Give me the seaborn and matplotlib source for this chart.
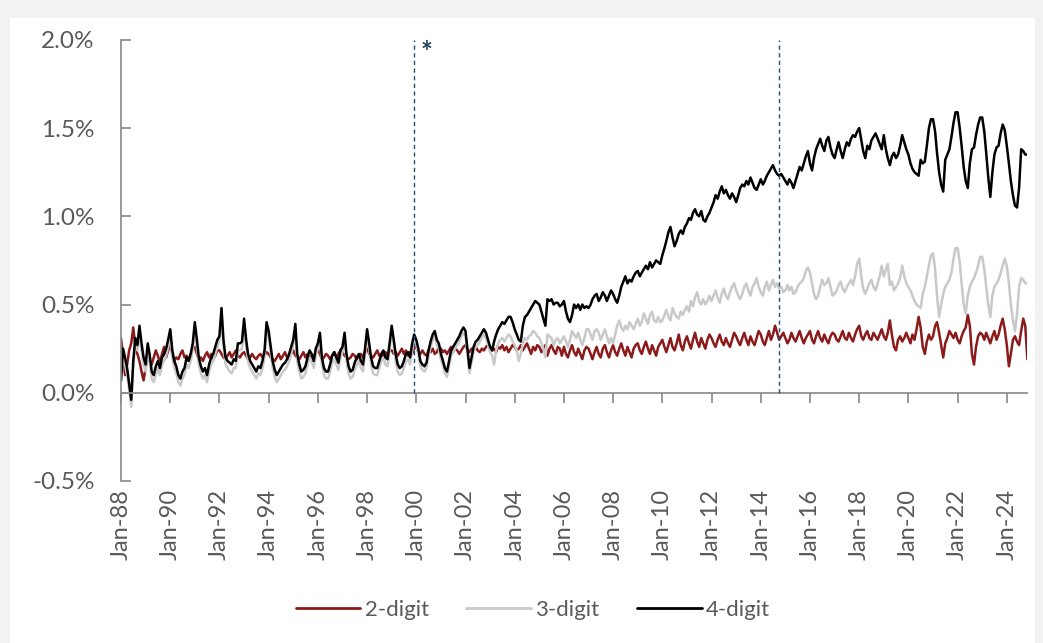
import matplotlib
matplotlib.use("Agg")
import matplotlib.pyplot as plt
import matplotlib.dates as mdates
from matplotlib.patches import Rectangle
from matplotlib.ticker import FuncFormatter, MultipleLocator
import seaborn as sns
import numpy as np
import pandas as pd

# monthly shares, in hundredths of a percent (Jan-88 .. Nov-24), one row per year
two_digit = [
    31, 20, 10, 16, 24, 28, 37, 26, 22, 18, 12, 7,
    14, 22, 18, 16, 20, 24, 21, 17, 22, 26, 20, 24,
    28, 22, 18, 20, 19, 22, 24, 20, 21, 18, 22, 25,
    26, 22, 19, 20, 18, 21, 23, 20, 22, 19, 21, 24,
    24, 22, 20, 19, 21, 23, 20, 22, 24, 21, 20, 22,
    23, 21, 19, 20, 22, 20, 19, 21, 22, 20, 21, 23,
    22, 20, 19, 18, 20, 22, 19, 21, 23, 20, 19, 22,
    24, 21, 20, 19, 21, 23, 20, 22, 19, 21, 20, 23,
    25, 22, 19, 20, 22, 21, 19, 21, 23, 20, 22, 24,
    23, 21, 20, 19, 20, 22, 21, 19, 21, 22, 20, 23,
    25, 22, 21, 20, 22, 24, 21, 22, 20, 23, 21, 24,
    24, 22, 23, 21, 23, 25, 22, 24, 21, 23, 22, 25,
    26, 23, 22, 24, 22, 21, 24, 23, 25, 22, 23, 26,
    25, 23, 24, 22, 24, 26, 23, 25, 24, 22, 24, 26,
    27, 24, 23, 25, 24, 26, 24, 23, 25, 24, 26, 27,
    26, 24, 25, 23, 26, 25, 27, 24, 26, 23, 25, 27,
    26, 24, 25, 27, 24, 26, 28, 25, 22, 26, 24, 27,
    26, 23, 25, 27, 21, 25, 27, 24, 22, 26, 25, 21,
    26, 22, 20, 24, 27, 23, 21, 25, 22, 19, 24, 26,
    25, 22, 19, 23, 26, 22, 20, 25, 27, 23, 20, 24,
    27, 23, 21, 25, 28, 24, 21, 26, 23, 20, 25, 27,
    28, 24, 22, 26, 29, 25, 22, 27, 24, 21, 26, 28,
    30, 26, 23, 27, 31, 26, 24, 28, 33, 27, 24, 29,
    32, 28, 25, 30, 34, 29, 26, 31, 28, 25, 30, 33,
    31, 28, 26, 30, 33, 29, 27, 31, 28, 26, 30, 34,
    32, 29, 27, 31, 34, 30, 27, 32, 29, 27, 31, 35,
    33, 29, 27, 31, 35, 30, 33, 38, 34, 30, 32, 34,
    31, 28, 30, 34, 31, 29, 32, 35, 31, 28, 31, 33,
    35, 30, 28, 32, 35, 31, 29, 33, 30, 28, 32, 34,
    33, 30, 29, 32, 35, 31, 30, 34, 31, 29, 33, 36,
    38, 32, 30, 33, 35, 31, 30, 34, 32, 30, 33, 36,
    32, 30, 34, 41, 33, 26, 24, 30, 32, 29, 31, 34,
    31, 28, 33, 30, 36, 43, 37, 26, 22, 29, 33, 30,
    32, 38, 40, 34, 27, 20, 28, 31, 35, 33, 31, 34,
    30, 28, 32, 35, 37, 44, 38, 22, 16, 26, 32, 34,
    33, 30, 34, 31, 28, 32, 35, 30, 33, 38, 42, 36,
    27, 15, 22, 30, 32, 29, 27, 35, 42, 38, 19,
]

three_digit = [
    6, 22, 16, 10, 2, -8, 14, 28, 24, 34, 24, 16,
    12, 24, 18, 8, 6, 10, 14, 10, 16, 18, 21, 26,
    32, 20, 14, 11, 6, 4, 8, 10, 16, 14, 18, 24,
    36, 26, 16, 11, 8, 10, 6, 12, 16, 18, 22, 26,
    30, 44, 26, 16, 14, 12, 11, 14, 14, 24, 24, 25,
    38, 26, 18, 14, 12, 10, 8, 11, 10, 14, 20, 36,
    32, 22, 14, 9, 6, 8, 10, 12, 13, 15, 18, 22,
    27, 36, 18, 12, 8, 9, 11, 16, 20, 18, 14, 21,
    25, 31, 16, 10, 8, 8, 12, 17, 19, 16, 13, 20,
    23, 31, 18, 11, 8, 9, 13, 16, 18, 14, 12, 21,
    33, 25, 16, 11, 10, 10, 14, 18, 20, 16, 15, 24,
    35, 27, 18, 12, 10, 11, 14, 18, 19, 16, 24, 30,
    27, 22, 15, 13, 12, 14, 21, 26, 30, 32, 27, 25,
    19, 15, 11, 9, 15, 21, 23, 25, 27, 29, 32, 34,
    32, 21, 11, 17, 23, 26, 27, 29, 31, 33, 31, 27,
    23, 21, 16, 24, 28, 30, 31, 29, 31, 33, 32, 29,
    27, 24, 18, 22, 28, 31, 30, 32, 33, 35, 34, 32,
    31, 28, 25, 20, 33, 32, 31, 27, 30, 31, 28, 30,
    32, 29, 26, 30, 35, 33, 31, 34, 30, 27, 31, 36,
    36, 33, 30, 35, 36, 34, 30, 33, 36, 32, 28, 31,
    28, 33, 38, 41, 37, 35, 38, 36, 40, 38, 36, 39,
    42, 38, 40, 45, 42, 39, 44, 46, 41, 40, 43, 40,
    41, 44, 47, 43, 41, 48, 45, 43, 42, 46, 44, 47,
    49, 46, 52, 49, 54, 57, 52, 50, 53, 50, 52, 55,
    52, 55, 58, 54, 51, 56, 59, 55, 53, 57, 60, 62,
    58, 55, 53, 56, 60, 62, 58, 55, 60, 62, 65, 60,
    57, 55, 60, 63, 58, 61, 64, 60, 62, 59, 60, 57,
    58, 61, 58, 60, 56, 57, 60, 62, 63, 65, 69, 71,
    68, 62, 56, 53, 55, 60, 64, 61, 62, 65, 60, 55,
    56, 58, 61, 63, 59, 57, 60, 62, 64, 61, 66, 73,
    76, 66, 59, 56, 59, 62, 64, 60, 58, 62, 66, 72,
    66, 70, 73, 61, 63, 58, 60, 62, 65, 72, 66, 62,
    60, 58, 55, 52, 50, 49, 48, 56, 60, 66, 72, 78,
    79, 70, 55, 43, 50, 56, 60, 62, 64, 68, 76, 82,
    82, 74, 62, 50, 45, 55, 60, 63, 65, 68, 72, 77,
    77, 70, 60, 50, 43, 55, 60, 62, 64, 68, 72, 76,
    72, 62, 50, 41, 35, 45, 60, 65, 64, 62, 62,
]

four_digit = [
    7, 25, 20, 14, 5, -4, 18, 31, 27, 38, 28, 20,
    16, 28, 22, 12, 10, 15, 18, 14, 20, 22, 25, 30,
    36, 24, 18, 15, 10, 8, 12, 14, 20, 18, 22, 28,
    40, 30, 20, 15, 12, 14, 10, 16, 20, 22, 26, 30,
    32, 48, 30, 20, 18, 17, 16, 19, 18, 28, 28, 29,
    42, 30, 22, 18, 16, 14, 12, 15, 14, 18, 24, 40,
    35, 26, 18, 13, 10, 12, 14, 16, 17, 19, 22, 26,
    30, 39, 22, 16, 12, 13, 15, 20, 24, 22, 18, 25,
    28, 34, 20, 14, 12, 12, 16, 21, 23, 20, 17, 24,
    26, 34, 22, 15, 12, 13, 17, 20, 22, 18, 16, 25,
    36, 28, 20, 15, 14, 14, 18, 22, 24, 20, 19, 28,
    38, 30, 22, 16, 14, 15, 18, 22, 23, 20, 28, 33,
    30, 25, 18, 16, 15, 17, 24, 29, 33, 35, 30, 28,
    22, 18, 14, 12, 18, 24, 26, 28, 30, 32, 35, 37,
    35, 24, 14, 20, 26, 29, 30, 32, 34, 36, 34, 30,
    26, 24, 29, 33, 36, 38, 40, 39, 41, 43, 43, 40,
    36, 33, 30, 29, 38, 43, 44, 46, 48, 50, 52, 51,
    50, 46, 42, 38, 53, 52, 53, 50, 51, 51, 49, 50,
    52, 46, 42, 40, 44, 50, 48, 50, 47, 50, 48, 49,
    48, 50, 53, 55, 56, 52, 54, 57, 55, 52, 55, 58,
    56, 53, 51, 55, 60, 63, 66, 62, 64, 63, 66, 68,
    69, 66, 68, 70, 72, 70, 74, 71, 73, 75, 74, 73,
    78, 82, 86, 91, 94, 88, 83, 86, 90, 92, 90, 94,
    96, 99, 98, 102, 104, 101, 100, 103, 98, 97, 100, 102,
    105, 108, 112, 110, 114, 117, 113, 115, 112, 110, 113, 111,
    108, 112, 116, 118, 117, 120, 118, 122, 119, 116, 115, 118,
    121, 118, 120, 123, 125, 127, 129, 126, 124, 123, 124, 122,
    120, 118, 121, 119, 116, 120, 124, 128, 126, 130, 134, 137,
    130, 126, 133, 138, 141, 144, 140, 137, 143, 145, 139, 135,
    133, 138, 142, 137, 133, 138, 142, 140, 144, 146, 145, 148,
    150, 143, 137, 133, 140, 138, 143, 145, 147, 144, 141, 138,
    146, 138, 133, 129, 134, 136, 133, 135, 140, 146, 142, 138,
    135, 130, 127, 125, 124, 123, 132, 130, 131, 140, 150, 155,
    155, 148, 136, 125, 118, 114, 132, 135, 138, 145, 153, 159,
    159, 150, 140, 128, 120, 116, 130, 138, 139, 146, 152, 156,
    156, 148, 136, 122, 111, 125, 135, 139, 140, 147, 152, 149,
    140, 130, 120, 112, 106, 105, 116, 138, 137, 135, 135,
]

series_names = ["2-digit", "3-digit", "4-digit"]
series_colors = ["#8b1a1a", "#c9c9c9", "#000000"]
break_dates = ["1999-12-01", "2014-10-01"]

dates = pd.date_range("1988-01-01", periods=len(four_digit), freq="MS")
wide = pd.DataFrame({
    "date": dates,
    "2-digit": np.array(two_digit) / 100,
    "3-digit": np.array(three_digit) / 100,
    "4-digit": np.array(four_digit) / 100,
})
df = wide.melt(id_vars="date", var_name="series", value_name="share")

sns.set_theme(style="white")
plt.rcParams["font.family"] = ["Lato", "DejaVu Sans"]

fig = plt.figure(figsize=(10.43, 6.43), dpi=100)
fig.patch.set_facecolor("#f2f2f2")
fig.patches.append(Rectangle((10 / 1043, 0), 1025 / 1043, 625 / 643,
                             transform=fig.transFigure, facecolor="white",
                             edgecolor="none", zorder=-10))
ax = fig.add_axes([0.116, 0.252, 0.869, 0.686])
ax.set_facecolor("none")

sns.lineplot(data=df, x="date", y="share", hue="series", hue_order=series_names,
             palette=series_colors, linewidth=1.8, ax=ax, legend=False)

# dashed break markers
for d in break_dates:
    ax.vlines(pd.Timestamp(d), 0, 2.0, colors="#1f4e79", linestyles=(0, (3, 2.5)),
              linewidth=1.0, zorder=5)
ax.text(pd.Timestamp("2000-03-01"), 2.0, "*", color="#1f3f5f", fontsize=20,
        fontweight="bold", ha="left", va="top")

ax.set_xlim(dates[0], dates[-1])
ax.set_ylim(-0.5, 2.0)
ax.set_xlabel("")
ax.set_ylabel("")

axis_grey = "#8c8c8c"
label_grey = "#595959"
for s in ["top", "right"]:
    ax.spines[s].set_visible(False)
ax.spines["left"].set_color(axis_grey)
ax.spines["bottom"].set_color(axis_grey)
ax.spines["bottom"].set_position(("data", 0))

ax.yaxis.set_major_locator(MultipleLocator(0.5))
ax.yaxis.set_major_formatter(FuncFormatter(lambda v, p: f"{v:.1f}%"))
ax.tick_params(axis="y", direction="in", length=7, color=axis_grey, pad=19,
               labelsize=17.5, labelcolor=label_grey, left=True)

ax.xaxis.set_major_locator(mdates.YearLocator(base=2, month=1, day=1))
ax.tick_params(axis="x", direction="out", length=7, color=axis_grey,
               labelbottom=False, bottom=True)

sec = ax.secondary_xaxis(0.0)
sec.xaxis.set_major_locator(mdates.YearLocator(base=2, month=1, day=1))
sec.xaxis.set_major_formatter(mdates.DateFormatter("%b-%y"))
sec.tick_params(axis="x", length=0, pad=6, labelsize=17, labelcolor=label_grey,
                labelrotation=90)
sec.spines["bottom"].set_visible(False)

handles = [plt.Line2D([], [], color=c, linewidth=2) for c in series_colors]
fig.legend(handles, series_names, loc="center", bbox_to_anchor=(0.511, 0.051),
           ncol=3, frameon=False, handlelength=2.9, handletextpad=0.2,
           columnspacing=1.7, prop={"size": 16}, labelcolor=label_grey)

fig.savefig("out.png", dpi=100, facecolor=fig.get_facecolor())
